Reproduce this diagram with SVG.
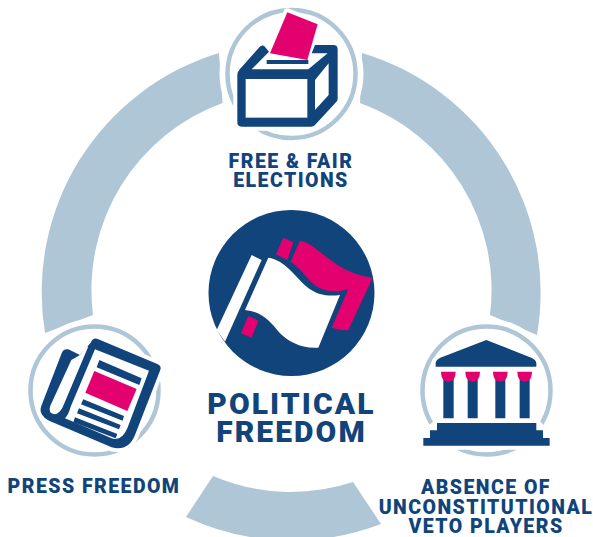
<svg xmlns="http://www.w3.org/2000/svg" width="593" height="537" viewBox="0 0 593 537">
<style>
.seg{fill:#afc6d7}
.ring{fill:none;stroke:#afc6d7;stroke-width:4.5}
.d{fill:#10447a}
.p{fill:#e3006f}
.w{fill:#fff}
.h{fill:#fff;stroke:#fff;stroke-width:24;stroke-linejoin:round}
text{font-family:Roboto,"Liberation Sans",sans-serif;font-weight:900;fill:#10447a;text-anchor:middle}
.s{font-size:19.5px;letter-spacing:1.45px}
.b{font-size:30px;letter-spacing:2.1px}
</style>
<g id="connectors">
<path class="seg" d="M219,53 A250,250 0 0 0 45,333 L93,315 A199,199 0 0 1 222.6,103 Z"/>
<path class="seg" d="M362,53 A250,250 0 0 1 537,335 L490,315 A199,199 0 0 0 360,103 Z"/>
<path class="seg" d="M186,517 A250,250 0 0 0 381,524 L353,482 A199,199 0 0 1 213,476 Z"/>
</g>
<g id="node-elections">
<circle class="w" cx="291.5" cy="74" r="72"/>
<circle class="ring" cx="291.5" cy="74" r="64"/>
<g transform="translate(200,0) scale(.3333)">
<path class="h" d="M262,37 L353,73 L335,137 L400,137 Q413,137 413,150 L413,300 L340,380 L125,380 Q112,380 112,367 L112,225 L185,137 L225,137 Z"/>
<path class="d" d="M125,380 Q112,380 112,367 L112,225 Q112,215 120,207 L178,142 Q184,134 192,137 L207,155 L155,208 L325,208 L383,160 L335,160 L345,135 L400,135 Q413,135 413,148 L413,296 Q413,302 408,307 L345,375 Q340,380 333,380 Z"/>
<rect class="w" x="137" y="237" width="185" height="116"/>
<path class="w" d="M345,240 L386,190 L386,285 L345,330 Z"/>
<rect class="d" x="200" y="180" width="125" height="12"/>
<path class="p" d="M262,37 L353,73 L322,180 L210,160 Z"/>
</g>
</g>
<g id="node-press">
<circle class="w" cx="94.5" cy="390.5" r="72"/>
<circle class="ring" cx="94.5" cy="390.5" r="64"/>
<g transform="translate(0,310) scale(.3333)">
<path class="h" d="M275,95 Q280,82 295,88 L472,162 Q485,168 480,180 L405,375 Q385,425 335,412 L165,340 Q110,320 125,285 L185,130 Q190,115 205,118 L250,135 Z"/>
<path class="d" d="M272,98 Q280,80 295,88 L472,162 Q487,168 480,182 L405,375 Q385,425 335,412 L165,340 Q110,320 125,285 L185,130 Q190,115 205,118 L240,135 Z"/>
<path class="w" d="M214,150 L240,135 L262,108 L264,112 L188,292 Q172,322 152,308 Q146,298 152,285 Z"/>
<path class="w" d="M285,118 L447,182 L382,355 Q365,395 335,385 L195,325 Q205,315 212,290 Z"/>
<path class="d" d="M298,150 L425,205 L418,225 L290,172 Z M250,268 L372,318 L368,332 L243,283 Z M237,295 L362,345 L357,358 L231,310 Z M225,322 L352,372 L347,385 L220,337 Z"/>
<path class="p" d="M283,183 L410,237 L382,303 L256,248 Z"/>
</g>
</g>
<g id="node-veto">
<circle class="w" cx="486.5" cy="390.5" r="72"/>
<circle class="ring" cx="486.5" cy="390.5" r="64"/>
<g transform="translate(403,310) scale(.3333)">
<path class="h" d="M250,90 L400,155 L400,339 L420,361 L440,384 L440,407 L61,407 L61,384 L81,361 L102,339 L98,155 Z"/>
<path class="d" d="M250,90 L385,143 Q400,150 400,160 L400,170 L98,170 L98,160 Q98,150 112,143 Z"/>
<path class="d" d="M121,205 H152 V325 H121 Z M194,205 H224 V325 H194 Z M277,205 H307 V325 H277 Z M350,205 H380 V325 H350 Z"/>
<path class="p" d="M114,185 H158 Q158,215 136,215 Q114,215 114,185 Z M187,185 H231 Q231,215 209,215 Q187,215 187,185 Z M270,185 H314 Q314,215 292,215 Q270,215 270,185 Z M343,185 H387 Q387,215 365,215 Q343,215 343,185 Z"/>
<path class="d" d="M102,339 H400 V361 H420 V384 H440 V407 H61 V384 H81 V361 H102 Z"/>
</g>
</g>
<g id="node-political">
<circle class="d" cx="291.5" cy="293" r="83"/>
<g transform="translate(200,205) scale(.3333)">
<path class="w" d="M155,150 L185,165 L75,410 L50,375 Z"/>
<path class="p" d="M250,98 L280,112 L262,165 L228,148 Z M145,333 L175,347 L155,398 L123,385 Z"/>
<path class="p" d="M300,107 C355,115 400,205 518,218 L445,375 C430,378 410,372 395,368 L445,252 C420,262 385,262 360,250 C325,232 305,190 272,170 Z"/>
<path class="w" d="M205,158 C255,165 285,215 320,245 C350,270 385,275 420,270 L355,428 C305,432 265,410 240,385 C215,355 190,320 135,315 Z"/>
</g>
<text class="b" x="291.5" y="414">POLITICAL</text>
<text class="b" x="291.5" y="442">FREEDOM</text>
</g>
<g id="labels">
<text class="s" x="291" y="168">FREE &amp; FAIR</text>
<text class="s" x="291" y="187">ELECTIONS</text>
<text class="s" x="94" y="493">PRESS FREEDOM</text>
<text class="s" x="486" y="494">ABSENCE OF</text>
<text class="s" x="486" y="514">UNCONSTITUTIONAL</text>
<text class="s" x="486" y="533">VETO PLAYERS</text>
</g>
</svg>
